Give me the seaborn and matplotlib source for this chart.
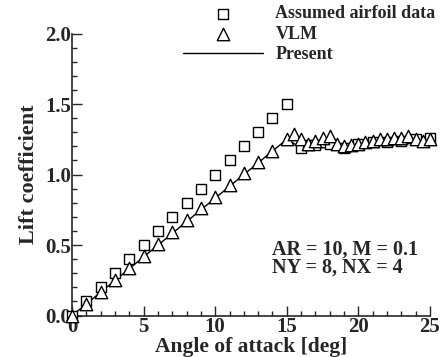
import numpy as np
import pandas as pd
import seaborn as sns
import matplotlib.pyplot as plt

# assumed airfoil data (squares)
alpha_af = [0, 1, 2, 3, 4, 5, 6, 7, 8, 9, 10, 11, 12, 13, 14, 15,
            16, 16.5, 17, 18, 19, 20, 21, 22, 23, 24, 25]
cl_af = [0.0, 0.1, 0.2, 0.3, 0.4, 0.5, 0.6, 0.7, 0.8, 0.9, 1.0, 1.1, 1.2, 1.3, 1.4, 1.5,
         1.19, 1.21, 1.21, 1.22, 1.19, 1.22, 1.23, 1.23, 1.24, 1.25, 1.26]

# VLM (triangles)
alpha_vlm = [0, 1, 2, 3, 4, 5, 6, 7, 8, 9, 10, 11, 12, 13, 14, 15,
             15.5, 16, 16.5, 17, 17.5, 18, 18.5, 19, 19.5, 20, 20.5, 21, 21.5,
             22, 22.5, 23, 23.5, 24, 24.5, 25]
cl_vlm = [0.0, 0.085, 0.17, 0.25, 0.335, 0.42, 0.505, 0.59, 0.675, 0.76, 0.84, 0.925, 1.01, 1.09, 1.17, 1.25,
          1.29, 1.25, 1.22, 1.24, 1.26, 1.27, 1.22, 1.2, 1.21, 1.22, 1.23, 1.24, 1.25,
          1.25, 1.26, 1.26, 1.27, 1.25, 1.24, 1.25]

# present method (line)
alpha_pr = [0, 15, 16, 17, 18, 19, 20, 21, 22, 23, 24, 25]
cl_pr = [0.0, 1.25, 1.19, 1.19, 1.19, 1.19, 1.2, 1.21, 1.21, 1.22, 1.22, 1.23]

sns.set_style("ticks")
plt.rcParams['font.family'] = ['Liberation Serif', 'DejaVu Serif']
plt.rcParams['font.weight'] = 'bold'

fig = plt.figure(figsize=(4.4, 3.57), dpi=100)
ax = fig.add_axes([0.164, 0.116, 0.813, 0.79])

sns.scatterplot(x=alpha_af, y=cl_af, marker='s', s=55, facecolor='white',
                edgecolor='black', linewidth=1, label='Assumed airfoil data', ax=ax,
                zorder=3, clip_on=False)
sns.scatterplot(x=alpha_vlm, y=cl_vlm, marker='^', s=80, facecolor='white',
                edgecolor='black', linewidth=1, label='VLM', ax=ax, zorder=4, clip_on=False)
sns.lineplot(x=alpha_pr, y=cl_pr, color='black', linewidth=1, label='Present', ax=ax, zorder=2)

ax.set_xlim(0, 25)
ax.set_ylim(0, 2.0)
ax.set_xticks([0, 5, 10, 15, 20, 25])
ax.set_yticks([0, 0.5, 1.0, 1.5, 2.0])
ax.set_yticklabels(['0.0', '0.5', '1.0', '1.5', '2.0'])
ax.set_xticks(np.arange(0, 26, 1), minor=True)
ax.set_yticks(np.arange(0, 2.01, 0.1), minor=True)
ax.tick_params(which='both', direction='in', width=1, labelsize=15, pad=1)
ax.tick_params(which='major', length=7)
ax.tick_params(which='minor', length=3.5)
for lab in ax.get_xticklabels() + ax.get_yticklabels():
    lab.set_fontweight('bold')
sns.despine(ax=ax)
ax.spines['left'].set_linewidth(1.2)
ax.spines['bottom'].set_linewidth(1.2)

ax.set_xlabel('Angle of attack [deg]', fontsize=15.5, fontweight='bold', labelpad=0)
ax.set_ylabel('Lift coefficient', fontsize=16, fontweight='bold', labelpad=4)

ax.text(14.0, 0.54, 'AR = 10, M = 0.1\nNY = 8, NX = 4', fontsize=14.5, fontweight='bold',
        va='top', ha='left', linespacing=0.9)

leg = ax.legend(loc='upper right', bbox_to_anchor=(0.998, 0.995), bbox_transform=fig.transFigure,
                frameon=False, fontsize=13, handlelength=4.4, handletextpad=0.7,
                labelspacing=0.18, borderaxespad=0, borderpad=0.2)
for t in leg.get_texts():
    t.set_fontweight('bold')

fig.savefig('out.png', dpi=100)
